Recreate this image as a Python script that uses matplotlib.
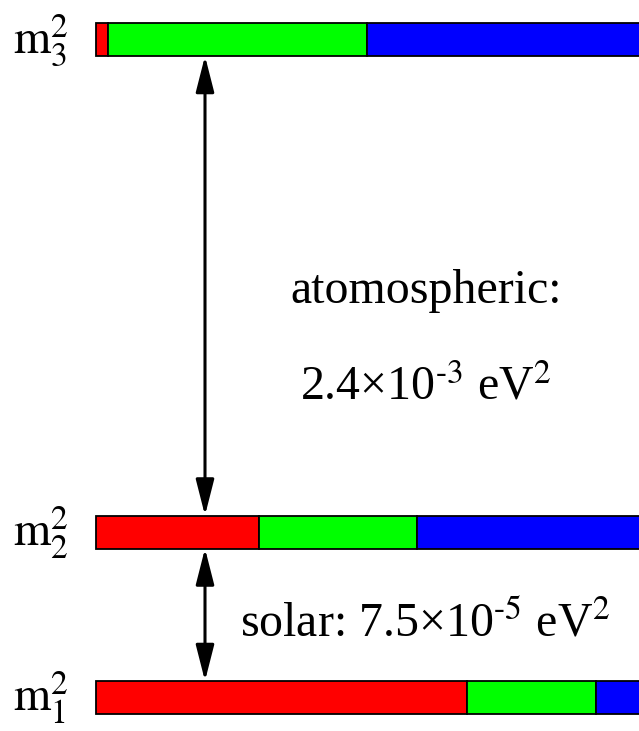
import matplotlib

matplotlib.use("Agg")
import matplotlib.pyplot as plt
from matplotlib.patches import FancyArrowPatch

plt.rcParams["font.family"] = ["Liberation Serif", "DejaVu Serif"]
plt.rcParams["mathtext.fontset"] = "stix"

# mass levels (label, bar centre, flavour widths e / mu / tau), units ~ pixels from bar start
LEVELS = ["$\\mathrm{m}_3^2$", "$\\mathrm{m}_2^2$", "$\\mathrm{m}_1^2$"]
LEVEL_Y = [691.5, 199.0, 33.5]
E_PART = [12, 163, 371]
MU_PART = [259, 158, 129]
TAU_PART = [400, 400, 400]
FLAVOUR_COLORS = ["#ff0000", "#00ff00", "#0000ff"]

BAR_HEIGHT = 33
ARROW_X = 109
ATM_TEXT = ["atomospheric:", "2.4×10$^{\\text{-3}}$ eV$^2$"]
SOLAR_TEXT = "solar: 7.5×10$^{\\text{-5}}$ eV$^2$"
FONT_SIZE = 34.5

fig = plt.figure(figsize=(6.39, 7.31), dpi=100)
ax = fig.add_axes([0, 0, 1, 1])
ax.set_xlim(-96, 543)
ax.set_ylim(0, 731)
ax.axis("off")

for label, y, e, mu, tau in zip(LEVELS, LEVEL_Y, E_PART, MU_PART, TAU_PART):
    left = 0
    for width, color in zip([e, mu, tau], FLAVOUR_COLORS):
        ax.barh(y, width, height=BAR_HEIGHT, left=left, color=color,
                edgecolor="black", linewidth=1.3)
        left += width
    ax.text(-83, y - 14, label, fontsize=FONT_SIZE, ha="left", va="baseline")

# mass splittings
pairs = [(LEVEL_Y[0], LEVEL_Y[1]), (LEVEL_Y[1], LEVEL_Y[2])]
for upper, lower in pairs:
    arrow = FancyArrowPatch(
        (ARROW_X, upper - BAR_HEIGHT / 2), (ARROW_X, lower + BAR_HEIGHT / 2),
        arrowstyle="<|-|>,head_length=1.1,head_width=0.28",
        mutation_scale=20, linewidth=2.2, color="black",
        shrinkA=0, shrinkB=0,
    )
    ax.add_patch(arrow)

ax.text(194, 428, ATM_TEXT[0], fontsize=FONT_SIZE, ha="left", va="baseline")
ax.text(204, 331, ATM_TEXT[1], fontsize=FONT_SIZE, ha="left", va="baseline")
ax.text(144, 95, SOLAR_TEXT, fontsize=FONT_SIZE, ha="left", va="baseline")

fig.savefig("out.png", dpi=100)
